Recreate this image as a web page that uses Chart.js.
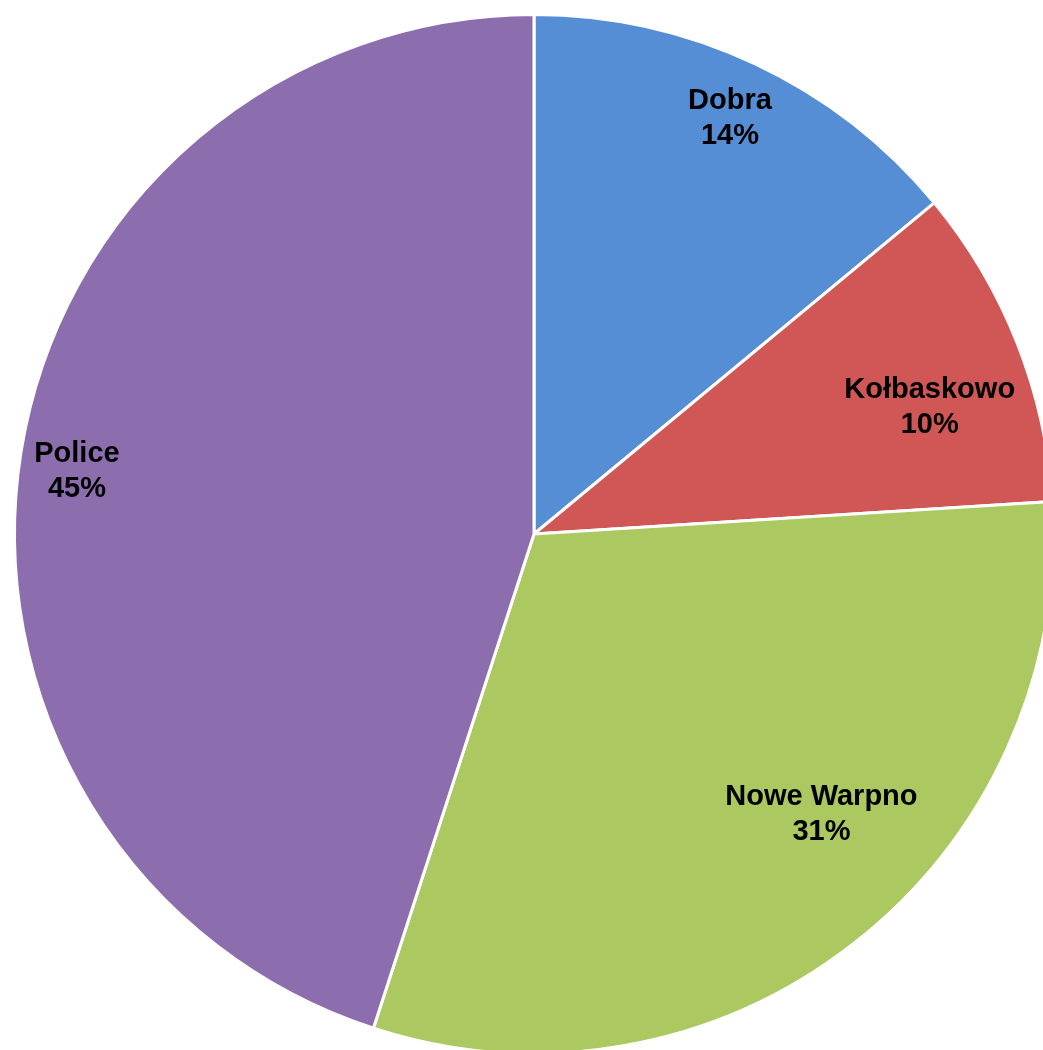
<!DOCTYPE html>
<html>
<head>
<meta charset="utf-8">
<script src="https://cdn.jsdelivr.net/npm/chart.js@4"></script>
<style>
  html, body { margin: 0; padding: 0; background: #fff; overflow: hidden; }
  #wrap { position: absolute; left: 0; top: 0; width: 1068px; height: 1068px; }
</style>
</head>
<body>
<div id="wrap"><canvas id="pieChart"></canvas></div>
<script>
// share of each gmina (%)
const categories = ['Dobra', 'Kołbaskowo', 'Nowe Warpno', 'Police'];
const shares = [14, 10, 31, 45];
const sliceColors = ['#558ED5', '#D05755', '#ABC861', '#8C6EAF'];

// label placement inside each slice: [fraction of radius, angle tweak in degrees]
const labelPlacement = [[0.886, 0], [0.80, 3.8], [0.773, -7.9], [0.888, -1.2]];

// draws "Name / NN%" labels inside the slices, like Excel's best fit
const sliceLabels = {
    id: 'sliceLabels',
    afterDatasetsDraw(chart) {
        const ctx = chart.ctx;
        const meta = chart.getDatasetMeta(0);
        const total = shares.reduce((a, b) => a + b, 0);
        ctx.save();
        ctx.font = 'bold 29px "Liberation Sans", Arial, sans-serif';
        ctx.fillStyle = '#000';
        ctx.textAlign = 'center';
        ctx.textBaseline = 'middle';
        meta.data.forEach((arc, i) => {
            const p = arc.getProps(['x', 'y', 'startAngle', 'endAngle', 'outerRadius'], true);
            const [frac, tweak] = labelPlacement[i];
            const a = (p.startAngle + p.endAngle) / 2 + tweak * Math.PI / 180;
            const r = p.outerRadius * frac;
            const x = p.x + Math.cos(a) * r;
            const y = p.y + Math.sin(a) * r;
            const pct = Math.round(shares[i] / total * 100) + '%';
            ctx.fillText(categories[i], x, y - 17);
            ctx.fillText(pct, x, y + 18);
        });
        ctx.restore();
    }
};

new Chart(document.getElementById('pieChart').getContext('2d'), {
    type: 'pie',
    data: {
        labels: categories,
        datasets: [{
            data: shares,
            backgroundColor: sliceColors,
            borderColor: '#ffffff',
            borderWidth: 3,
        }]
    },
    options: {
        responsive: true,
        maintainAspectRatio: false,
        animation: false,
        layout: { padding: 13 },
        plugins: {
            legend: { display: false },
            tooltip: { enabled: false },
        }
    },
    plugins: [sliceLabels]
});
</script>
</body>
</html>
